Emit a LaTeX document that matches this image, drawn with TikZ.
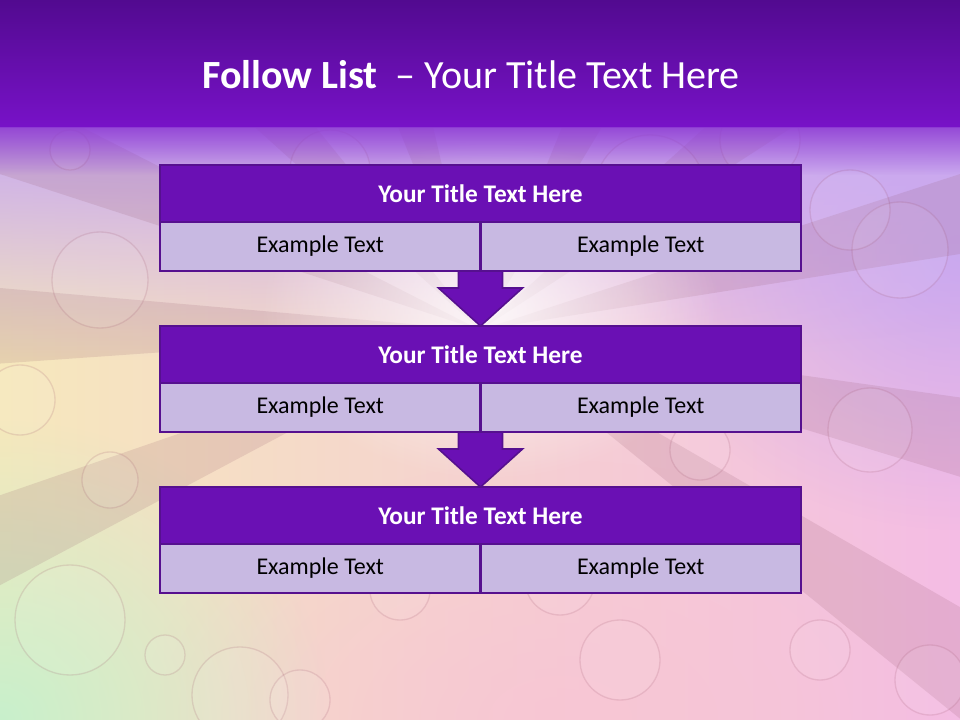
\documentclass[tikz,border=0pt]{standalone}
\usepackage{fontspec}
\setmainfont{Carlito}
\usetikzlibrary{calc,fadings}
\pgfdeclarelayer{bg}
\pgfdeclarelayer{arr}
\pgfsetlayers{bg,arr,main}
\definecolor{barTop}{HTML}{520A90}
\definecolor{barBot}{HTML}{7812C8}
\definecolor{ttlFill}{HTML}{6A10B4}
\definecolor{edge}{HTML}{56108F}
\definecolor{cellFill}{HTML}{C8B9E2}
\definecolor{ylw}{HTML}{F6E8BC}
\definecolor{pnk}{HTML}{F4BCE4}
\definecolor{lav}{HTML}{C8A8F0}
\definecolor{grn}{HTML}{C8F0CC}
\definecolor{rose}{HTML}{F8C4D4}
\tikzfading[name=glow, inner color=transparent!0, outer color=transparent!100]
\tikzset{
  ttlbox/.style={fill=ttlFill, draw=edge, line width=2.2pt, text=white,
    font=\bfseries\fontsize{19}{22}\selectfont, minimum width=480.75pt,
    minimum height=42.75pt, inner sep=0pt, outer sep=0pt, anchor=north},
  cellbox/.style={fill=cellFill, draw=edge, line width=2.2pt, text=black,
    font=\fontsize{18}{21}\selectfont, minimum width=240.375pt,
    minimum height=36.75pt, inner sep=0pt, outer sep=0pt},
  arrowshape/.style={fill=ttlFill, draw=edge, line width=1.2pt, line join=miter},
  ray/.style={fill=gray!70!purple, fill opacity=0.16},
  bubble/.style={draw=gray!60!purple, line width=1pt, draw opacity=0.16, fill=white, fill opacity=0.07}
}
\begin{document}
\begin{tikzpicture}[x=0.75pt,y=-0.75pt]
\useasboundingbox (0,0) rectangle (960,720);
\begin{pgfonlayer}{bg}
\begin{scope}
\clip (0,120) rectangle (960,720);
\fill[left color=ylw, right color=pnk] (0,0) rectangle (960,720);
\fill[rose, path fading=glow, fill opacity=0.8] (560,720) ellipse (420 and 260);
\fill[grn, path fading=glow] (0,720) ellipse (330 and 300);
\fill[lav, path fading=glow, fill opacity=0.9] (960,250) ellipse (330 and 280);
\fill[lav, path fading=south] (0,128) rectangle (960,360);
\foreach \a in {152,176,198,222,248,292,318,342,8,30}
  \fill[ray] (480,330) -- ($(480,330)+(\a:1400)$) -- ($(480,330)+(\a+9:1400)$) -- cycle;
\fill[white, path fading=glow, fill opacity=0.85] (490,310) ellipse (230 and 170);
\foreach \p/\r in {{70,150}/20,{100,280}/48,{195,230}/16,{110,480}/28,{70,620}/55,
  {165,655}/20,{240,695}/48,{300,700}/30,{620,660}/40,{560,580}/35,{870,430}/42,
  {900,250}/48,{850,210}/40,{820,650}/30,{930,680}/35,{330,170}/40,{650,190}/55,
  {760,140}/40,{20,400}/35,{400,590}/30,{700,450}/30}
  \draw[bubble] (\p) circle (\r);
\end{scope}
\fill[top color=barTop, bottom color=barBot] (0,0) rectangle (960,128);
\fill[barBot!70!lav, path fading=south, fill opacity=0.9] (0,127) rectangle (960,175);
\end{pgfonlayer}

\node[text=white, font=\fontsize{30}{34}\selectfont] (title) at (471,75)
  {\textbf{Follow List}\ \ – Your Title Text Here};

\node[ttlbox] (t1) at (480.5,165) {Your Title Text Here};
\node[cellbox, anchor=north east] (c1a) at (t1.south) {Example Text};
\node[cellbox, anchor=north west] (c1b) at (t1.south) {Example Text};

\node[ttlbox] (t2) at (480.5,326) {Your Title Text Here};
\node[cellbox, anchor=north east] (c2a) at (t2.south) {Example Text};
\node[cellbox, anchor=north west] (c2b) at (t2.south) {Example Text};

\node[ttlbox] (t3) at (480.5,487) {Your Title Text Here};
\node[cellbox, anchor=north east] (c3a) at (t3.south) {Example Text};
\node[cellbox, anchor=north west] (c3b) at (t3.south) {Example Text};

\begin{pgfonlayer}{arr}
\foreach \up/\dn in {c1a/t2,c2a/t3}{
  \draw[arrowshape]
    ($(\up.south east)+(-22,-4)$) -- ($(\up.south east)+(-22,17)$) --
    ($(\up.south east)+(-42,17)$) -- (\dn.north) --
    ($(\up.south east)+(42,17)$) -- ($(\up.south east)+(22,17)$) --
    ($(\up.south east)+(22,-4)$) -- cycle;
}
\end{pgfonlayer}
\end{tikzpicture}
\end{document}
